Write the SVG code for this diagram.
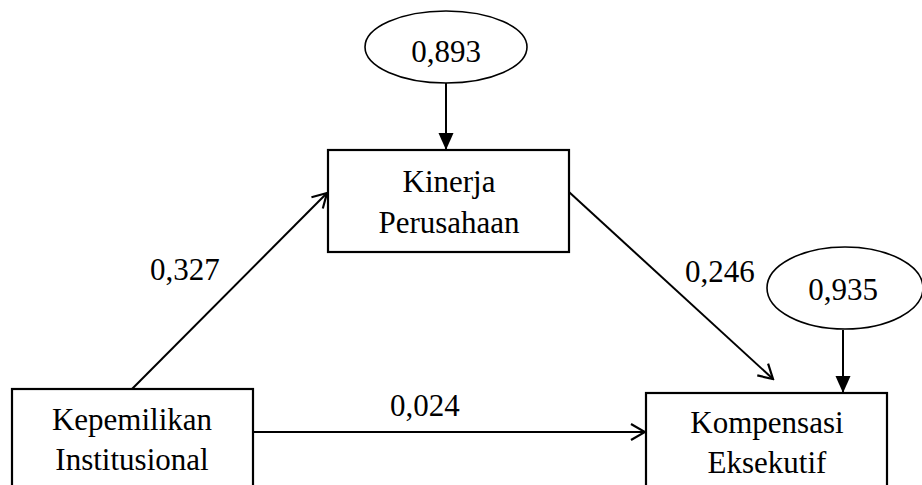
<svg xmlns="http://www.w3.org/2000/svg" width="922" height="485" viewBox="0 0 922 485">
<style>
.box{fill:#fff;stroke:#000;stroke-width:2.2}
.ell{fill:#fff;stroke:#000;stroke-width:1.6}
text{font-family:'Liberation Serif','DejaVu Serif','Times New Roman',serif;font-size:31px;fill:#000}
.t{text-anchor:middle}
.ln{fill:none;stroke:#000;stroke-width:2}
</style>
<defs>
<marker id="open" markerUnits="userSpaceOnUse" markerWidth="20" markerHeight="20" viewBox="0 0 20 20" refX="18" refY="10" orient="auto">
<path d="M4,2 L18,10 L4,18" fill="none" stroke="#000" stroke-width="2.2"/>
</marker>
<marker id="filled" markerUnits="userSpaceOnUse" markerWidth="18" markerHeight="18" viewBox="0 0 18 18" refX="17" refY="9" orient="auto">
<path d="M0,1.5 L17,9 L0,16.5 Z" fill="#000"/>
</marker>
</defs>
<g id="connectors">
<line class="ln" x1="446" y1="83" x2="446" y2="150" marker-end="url(#filled)"/>
<line class="ln" x1="843" y1="330" x2="843" y2="393" marker-end="url(#filled)"/>
<line class="ln" x1="132" y1="389" x2="327" y2="193" marker-end="url(#open)"/>
<line class="ln" x1="569" y1="192" x2="773" y2="379" marker-end="url(#open)"/>
<line class="ln" x1="253" y1="432" x2="645" y2="432" marker-end="url(#open)"/>
<text font-family="Liberation Serif, DejaVu Serif, serif" x="150" y="280">0,327</text>
<text font-family="Liberation Serif, DejaVu Serif, serif" x="685" y="282">0,246</text>
<text font-family="Liberation Serif, DejaVu Serif, serif" x="390" y="416">0,024</text>
</g>
<g id="e1">
<ellipse class="ell" cx="446" cy="47" rx="81" ry="36"/>
<text class="t" font-family="Liberation Serif, DejaVu Serif, serif" x="446" y="62">0,893</text>
</g>
<g id="e2">
<ellipse class="ell" cx="845" cy="288" rx="78" ry="41"/>
<text class="t" font-family="Liberation Serif, DejaVu Serif, serif" x="843" y="300">0,935</text>
</g>
<g id="kinerja">
<rect class="box" x="328" y="150" width="241" height="102"/>
<text class="t" font-family="Liberation Serif, DejaVu Serif, serif" x="449" y="192">Kinerja</text>
<text class="t" font-family="Liberation Serif, DejaVu Serif, serif" x="449" y="233">Perusahaan</text>
</g>
<g id="kepemilikan">
<rect class="box" x="12" y="389" width="241" height="110"/>
<text class="t" font-family="Liberation Serif, DejaVu Serif, serif" x="132" y="430">Kepemilikan</text>
<text class="t" font-family="Liberation Serif, DejaVu Serif, serif" x="132" y="470">Institusional</text>
</g>
<g id="kompensasi">
<rect class="box" x="646" y="393" width="241" height="110"/>
<text class="t" font-family="Liberation Serif, DejaVu Serif, serif" x="767" y="433">Kompensasi</text>
<text class="t" font-family="Liberation Serif, DejaVu Serif, serif" x="767" y="473">Eksekutif</text>
</g>
</svg>
